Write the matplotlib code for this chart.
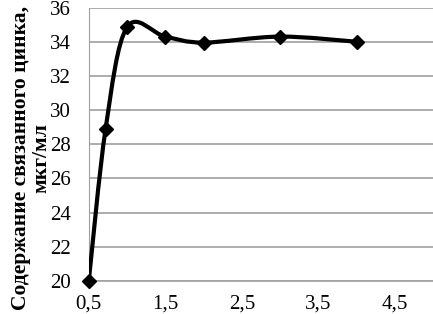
import numpy as np
from matplotlib import pyplot as plt
from matplotlib.path import Path
from matplotlib.patches import PathPatch

conc = [0.5, 0.72, 1.0, 1.5, 2.0, 3.0, 4.0]
zinc = [20.0, 28.9, 34.85, 34.3, 33.95, 34.3, 34.0]
xticks = [0.5, 1.5, 2.5, 3.5, 4.5]
xtick_labels = ['0,5', '1,5', '2,5', '3,5', '4,5']
yticks = list(range(20, 37, 2))

plt.rcParams['font.family'] = ['Liberation Serif', 'DejaVu Serif']

fig = plt.figure(figsize=(4.33, 3.14), dpi=100)
ax = fig.add_axes([0.205, 0.105, 0.795, 0.871])


def smooth_path(xs, ys):
    # Excel-style smoothed line: cubic Bezier segments through the points
    pts = np.column_stack([xs, ys])
    verts = [pts[0]]
    codes = [Path.MOVETO]
    n = len(pts)
    for i in range(n - 1):
        p0 = pts[max(i - 1, 0)]
        p1 = pts[i]
        p2 = pts[i + 1]
        p3 = pts[min(i + 2, n - 1)]
        c1 = p1 + (p2 - p0) / 6
        c2 = p2 - (p3 - p1) / 6
        verts += [c1, c2, p2]
        codes += [Path.CURVE4] * 3
    return Path(verts, codes)


ax.add_patch(PathPatch(smooth_path(conc, zinc), facecolor='none',
                       edgecolor='black', linewidth=3, zorder=3))
ax.plot(conc, zinc, linestyle='none', marker='D', markersize=7,
        color='black', zorder=4, clip_on=False)

ax.set_xlim(0.5, 5.0)
ax.set_ylim(20, 36)
ax.set_xticks(xticks)
ax.set_xticklabels(xtick_labels)
ax.set_yticks(yticks)
ax.tick_params(labelsize=15, length=0)
ax.tick_params(axis='y', pad=13)
ax.tick_params(axis='x', pad=10)
ax.grid(axis='y', color='#a0a0a0', linewidth=1.2)
ax.set_axisbelow(True)
for s in ['top', 'right']:
    ax.spines[s].set_visible(False)
ax.spines['left'].set_color('#a0a0a0')
ax.spines['bottom'].set_color('#a0a0a0')
ax.spines['bottom'].set_linewidth(1.2)

ax.set_ylabel('Содержание связанного цинка,\nмкг/мл', fontsize=15.5,
              fontweight='bold', linespacing=1.0)
ax.yaxis.set_label_coords(-0.11, 0.45)

fig.savefig('out.png', dpi=100)
